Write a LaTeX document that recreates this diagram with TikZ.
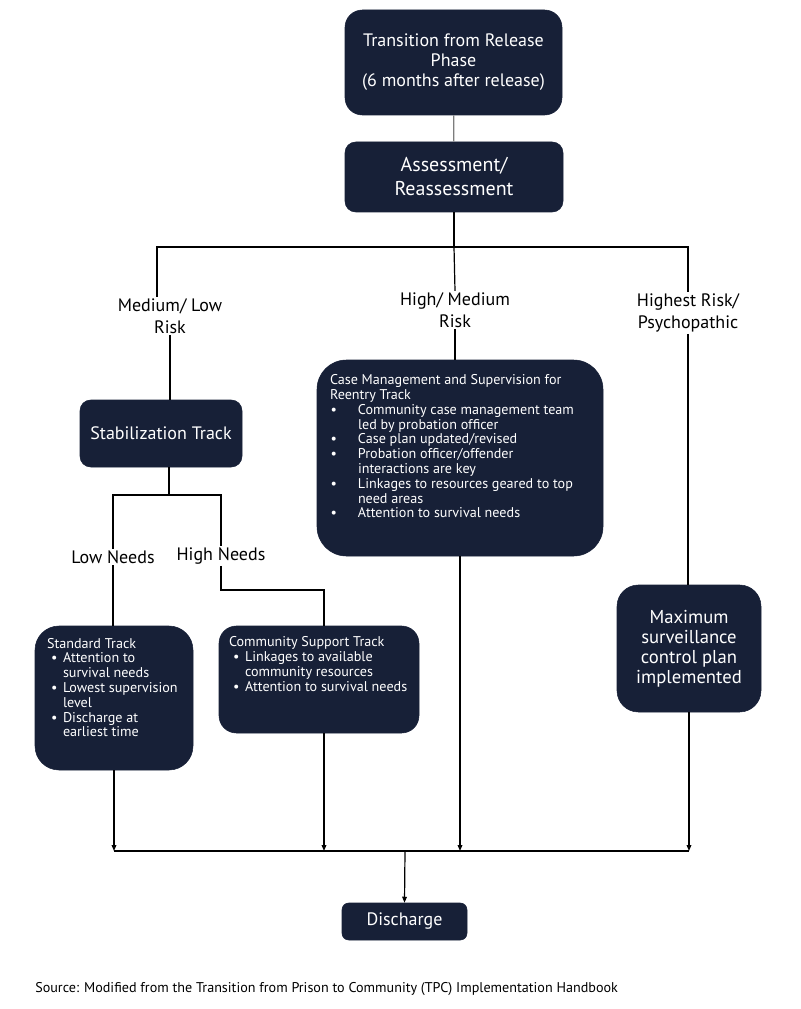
\documentclass[tikz,border=0pt]{standalone}
\usepackage{fontspec}
\setmainfont{PT Sans}
\usetikzlibrary{arrows.meta,positioning,calc}
\definecolor{navy}{RGB}{23,32,55}
\definecolor{joingray}{RGB}{125,125,125}
\newlength{\bulind}
\newlength{\bulpad}
\setlength{\bulpad}{3pt}
% bullet line with hanging indent
\newcommand{\bitem}[1]{\par\hangindent=\bulind\hangafter=1\noindent\makebox[\bulind][l]{\hspace{\bulpad}\textbullet}#1}
\tikzset{
  navybox/.style={draw=navy, fill=navy, text=white, align=center, inner sep=0pt},
  bigtext/.style={font=\fontsize{13.5}{15}\selectfont},
  smalltext/.style={font=\fontsize{10.6}{11.1}\selectfont},
  risktext/.style={align=center, inner sep=1pt, font=\fontsize{13.5}{16.5}\selectfont},
  wire/.style={draw=black, line width=0.9pt},
  feed/.style={wire, -{Triangle[length=4.5pt,width=3.5pt]}},
}
\begin{document}
\begin{tikzpicture}[x=0.75pt, y=-0.75pt]
\useasboundingbox (0,0) rectangle (800,1009);
% top of the chart
\node[navybox, bigtext, rounded corners=13pt, minimum width=162.75pt, minimum height=78.75pt] (release) at (453.5,62.5) {Transition from Release\\Phase\\(6 months after release)};
\node[navybox, font=\fontsize{15}{18}\selectfont, rounded corners=8pt, minimum width=163.5pt, minimum height=52.5pt] (assess) at (454,177) {Assessment/\\Reassessment};
\draw[line width=0.9pt, joingray] (release) -- (assess);
\coordinate (riskbar) at (454,247);
\draw[wire] (assess) -- (riskbar);
% three risk levels
\node[risktext] (lowrisk) at (170,316) {Medium/ Low\\Risk};
\node[risktext] (highmed) at (455,310) {High/ Medium\\Risk};
\node[risktext] (highest) at (688,313) {Highest Risk/\\Psychopathic};
\draw[wire] ([xshift=-9.75pt]lowrisk.north) |- (riskbar) -| (highest.north);
\draw[wire] (riskbar) -- (highmed.north);
% tracks
\node[navybox, bigtext, rounded corners=8pt, minimum width=121.5pt, minimum height=50.25pt] (stab) at (161,433.5) {Stabilization Track};
\node[navybox, smalltext, rounded corners=22pt, inner xsep=9.75pt, inner ysep=11pt] (casemg) at (460,458) {%
\begin{minipage}[c][125pt][t]{195pt}\raggedright\setlength{\bulind}{21pt}\setlength{\bulpad}{0.5pt}%
Case Management and Supervision for\\Reentry Track
\bitem{Community case management team\newline led by probation officer}
\bitem{Case plan updated/revised}
\bitem{Probation officer/offender\newline interactions are key}
\bitem{Linkages to resources geared to top\newline need areas}
\bitem{Attention to survival needs}
\end{minipage}};
\node[navybox, font=\fontsize{14}{15}\selectfont, rounded corners=16pt, minimum width=108pt, minimum height=95.25pt] (maxsurv) at (689,648.5) {Maximum\\surveillance\\control plan\\implemented};
\draw[wire] (lowrisk.south) -- (lowrisk.south |- stab.north);
\draw[wire] (highmed.south) -- (highmed.south |- casemg.north);
\draw[wire] (highest.south) -- (highest.south |- maxsurv.north);
% needs split
\coordinate (needbar) at (169,495);
\node[risktext] (lowneeds) at (113,557) {Low Needs};
\node[risktext] (highneeds) at (221,556) {High Needs};
\draw[wire] (stab.south -| needbar) -- (needbar);
\draw[wire] (lowneeds.north) |- (needbar) -| (highneeds.north);
\node[navybox, smalltext, rounded corners=18pt, inner xsep=9pt, inner ysep=9pt] (standard) at (114,698) {%
\begin{minipage}[c][90pt][t]{100.5pt}\raggedright\setlength{\bulind}{12pt}%
Standard Track
\bitem{Attention to\newline survival needs}
\bitem{Lowest supervision\newline level}
\bitem{Discharge at\newline earliest time}
\end{minipage}};
\node[navybox, smalltext, rounded corners=13pt, inner xsep=7.5pt, inner ysep=8pt] (community) at (319,679.5) {%
\begin{minipage}[c][64.25pt][t]{135pt}\raggedright\setlength{\bulind}{12pt}%
Community Support Track
\bitem{Linkages to available\newline community resources}
\bitem{Attention to survival needs}
\end{minipage}};
\coordinate (elbow) at (324,590);
\draw[wire] (lowneeds.south) -- (lowneeds.south |- standard.north);
\draw[wire] (highneeds.south) |- (elbow) -- (elbow |- community.north);
% everything ends in discharge
\coordinate (mergebar) at (405,851);
\node[navybox, bigtext, rounded corners=5pt, minimum width=93.75pt, minimum height=27.75pt] (discharge) at (404.5,921.5) {Discharge};
\draw[feed] (standard.south) -- (standard.south |- mergebar);
\draw[feed] (elbow |- community.south) -- (elbow |- mergebar);
\draw[feed] (casemg.south) -- (casemg.south |- mergebar);
\draw[feed] (maxsurv.south) -- (maxsurv.south |- mergebar);
\draw[wire] (standard.south |- mergebar) -- (maxsurv.south |- mergebar);
\draw[feed] (mergebar) -- (discharge.north);
\node[anchor=west, inner sep=0pt, font=\fontsize{10.6}{12}\selectfont] (source) at (35,989) {Source: Modified from the Transition from Prison to Community (TPC) Implementation Handbook};
\end{tikzpicture}
\end{document}
